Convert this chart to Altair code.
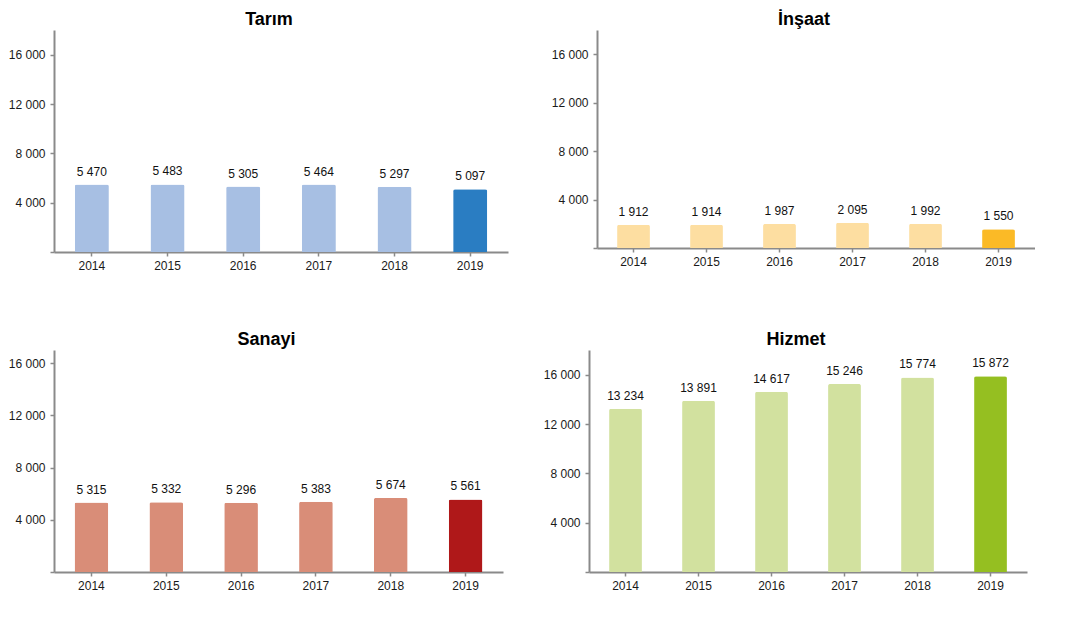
import altair as alt
import pandas as pd

years = ["2014", "2015", "2016", "2017", "2018", "2019"]
tarim = [5470, 5483, 5305, 5464, 5297, 5097]
insaat = [1912, 1914, 1987, 2095, 1992, 1550]
sanayi = [5315, 5332, 5296, 5383, 5674, 5561]
hizmet = [13234, 13891, 14617, 15246, 15774, 15872]
y_ticks = [0, 4000, 8000, 12000, 16000]

FONT = "Liberation Sans"


def panel(title, values, light, dark, width, height, ymax):
    df = pd.DataFrame({
        "year": years,
        "value": values,
        "label": [f"{v:,}".replace(",", " ") for v in values],
    })
    x = alt.X("year:N", sort=years, title=None,
              scale=alt.Scale(paddingInner=0.55, paddingOuter=0.275),
              axis=alt.Axis(labelAngle=0, labelPadding=4))
    y = alt.Y("value:Q", title=None,
              scale=alt.Scale(domain=[0, ymax], nice=False, zero=True),
              axis=alt.Axis(values=y_ticks, grid=False, labelPadding=5,
                            labelExpr="datum.value == 0 ? '' : replace(format(datum.value, ','), ',', ' ')"))
    base = alt.Chart(df)
    bars = base.mark_bar(cornerRadiusTopLeft=2, cornerRadiusTopRight=2).encode(
        x=x, y=y,
        color=alt.condition(alt.datum.year == "2019", alt.value(dark), alt.value(light)),
    )
    text = base.mark_text(baseline="bottom", dy=-6, fontSize=12, font=FONT, color="#111111").encode(
        x=alt.X("year:N", sort=years), y="value:Q", text="label:N"
    )
    return alt.layer(bars, text).properties(
        width=width, height=height,
        title=alt.TitleParams(title, fontSize=18, font=FONT, fontWeight="bold",
                              color="#000000", anchor="middle", offset=1, dx=-12),
    )


p1 = panel("Tarım", tarim, "#A7BFE3", "#2A7DC2", 454, 222, 18000)
p2 = panel("İnşaat", insaat, "#FDDEA1", "#FBBA26", 438, 218, 18000)
p3 = panel("Sanayi", sanayi, "#D98D78", "#AF1819", 449, 222, 17000)
p4 = panel("Hizmet", hizmet, "#D2E19F", "#95BF21", 438, 222, 18000)

row1 = alt.hconcat(p1, p2, spacing=43)
row2 = alt.hconcat(p3, p4, spacing=40)

chart = alt.vconcat(row1, row2, spacing=60).properties(
    padding={"top": 3, "left": 0, "right": 0, "bottom": 0}, background="white"
).configure_view(
    stroke="transparent", strokeWidth=0
).configure_axis(
    labelFont=FONT, labelFontSize=12, labelColor="#1a1a1a",
    domainColor="#8a8a8a", domainWidth=2, tickColor="#8a8a8a", tickSize=4, tickWidth=1.5,
)

chart.save("out.html", embed_options={"renderer": "svg", "actions": False})
